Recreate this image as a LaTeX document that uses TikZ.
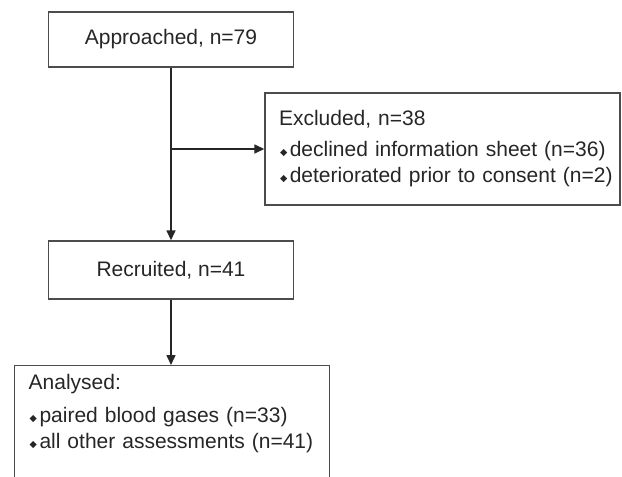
\documentclass[tikz,border=0pt]{standalone}
\usepackage{fontspec}
\setmainfont{Liberation Sans}
\newfontfamily\symfont{DejaVu Sans}
\usetikzlibrary{arrows.meta}
\newcommand{\dbul}{\hspace{1pt}\raisebox{1pt}{\symfont\fontsize{9.5}{9.5}\selectfont ◆}\hspace{2.5pt}}
\tikzset{
	box/.style={shape=rectangle,draw=black!70,line width=1.4pt,text=black!85,font=\fontsize{21}{26}\selectfont,inner xsep=14pt},
	arr/.style={-{Triangle[length=10pt,width=9pt]},line width=1.5pt,draw=black!85}
}

\begin{document}
\begin{tikzpicture}[x=1pt,y=-1pt]
	\useasboundingbox (0,0) rectangle (622,477);
	\clip (0,0) rectangle (622,477);
	\node [box,minimum width=245pt,minimum height=55pt] (A) at (171,39.5) {Approached, n=79};
	\node [box,minimum width=245pt,minimum height=58pt] (R) at (171,270) {Recruited, n=41};
	\node [box,minimum width=355pt,minimum height=112pt,text width=327pt,align=left] (EX) at (442.5,149) {Excluded, n=38\\[5pt]\mbox{\dbul declined information sheet (n=36)}\\\mbox{\dbul deteriorated prior to consent (n=2)}};
	\node [box,anchor=north west,minimum width=315pt,text width=287pt,align=left,inner ysep=9pt] (AN) at (14,365) {Analysed:\\[7pt]\dbul paired blood gases (n=33)\\\dbul all other assessments (n=41)\\[30pt]~};
	
	\coordinate (BR) at (A.south |- EX.west);
	\draw [arr] (A) -- (R);
	\draw [arr] (BR) -- (EX.west);
	\draw [arr] (R) -- (R.south |- AN.north);
\end{tikzpicture}
\end{document}
